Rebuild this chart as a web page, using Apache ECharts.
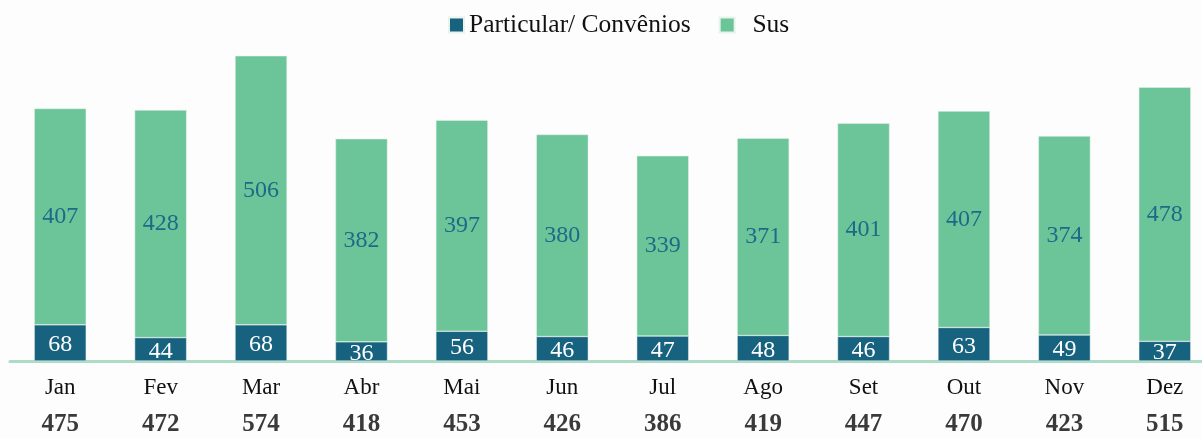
<!DOCTYPE html>
<html>
<head>
<meta charset="utf-8">
<script src="https://cdn.jsdelivr.net/npm/echarts@6/dist/echarts.min.js"></script>
<style>
  html, body { margin: 0; padding: 0; background: #fdfdfd; overflow: hidden; }
  #chart { width: 1215px; height: 439px; }
</style>
</head>
<body>
<div id="chart"></div>
<script>
// meses e valores
const months = ['Jan', 'Fev', 'Mar', 'Abr', 'Mai', 'Jun', 'Jul', 'Ago', 'Set', 'Out', 'Nov', 'Dez']
const particular = [68, 44, 68, 36, 56, 46, 47, 48, 46, 63, 49, 37]
const sus = [407, 428, 506, 382, 397, 380, 339, 371, 401, 407, 374, 478]
const totals = [475, 472, 574, 418, 453, 426, 386, 419, 447, 470, 423, 515]

const serif = '"Liberation Serif", "DejaVu Serif", serif'
const chart = echarts.init(document.getElementById('chart'))

const options = {
  backgroundColor: '#fdfdfd',
  animation: false,
  legend: {
    top: 7,
    left: 443,
    itemWidth: 15,
    itemHeight: 15,
    itemGap: 28,
    icon: 'rect',
    textStyle: { fontFamily: serif, fontSize: 25.5, color: '#111' },
    formatter: function (name) {
      return name === 'Sus' ? '  ' + name : name
    },
    data: ['Particular/ Convênios', 'Sus']
  },
  grid: { left: 10, right: 0, top: 42, bottom: 78 },
  xAxis: {
    type: 'category',
    data: months,
    axisTick: { show: false },
    axisLine: { show: true, lineStyle: { color: '#acdcc6', width: 3 } },
    axisLabel: {
      margin: 12,
      formatter: function (value, idx) {
        return '{m|' + value + '}\n{t|' + totals[idx] + '}'
      },
      rich: {
        m: { fontFamily: serif, fontSize: 23, color: '#111', lineHeight: 30 },
        t: { fontFamily: serif, fontSize: 25, fontWeight: 'bold', color: '#3a3a3a', lineHeight: 44 }
      }
    }
  },
  yAxis: {
    type: 'value',
    min: 0,
    max: 600,
    show: false
  },
  series: [
    {
      name: 'Particular/ Convênios',
      type: 'bar',
      stack: 'total',
      barWidth: 52,
      data: particular,
      itemStyle: { color: '#17627f', borderColor: '#e8f3ee', borderWidth: 0.5 },
      label: {
        show: true,
        position: 'inside',
        offset: [0, 2],
        color: '#ffffff',
        fontFamily: serif,
        fontSize: 24
      }
    },
    {
      name: 'Sus',
      type: 'bar',
      stack: 'total',
      barWidth: 52,
      data: sus,
      itemStyle: { color: '#6cc499', borderColor: '#e8f3ee', borderWidth: 0.5 },
      label: {
        show: true,
        position: 'inside',
        color: '#1d6a88',
        fontFamily: serif,
        fontSize: 24
      }
    }
  ]
}

chart.setOption(options)
window.addEventListener('resize', () => {
  chart.resize()
})
</script>
</body>
</html>
